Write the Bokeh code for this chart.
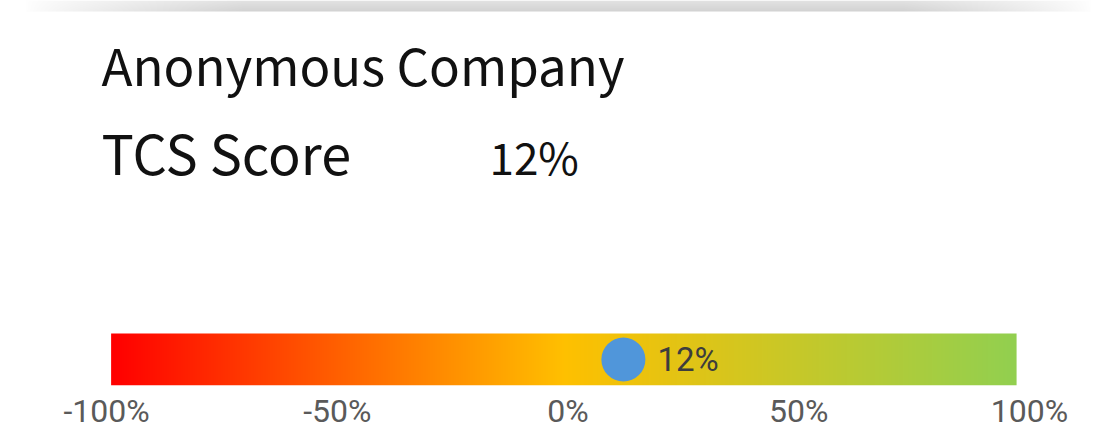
import numpy as np
from bokeh.plotting import figure
from bokeh.models import Range1d, FixedTicker
from bokeh.core.properties import value
from bokeh.embed import file_html
from bokeh.resources import INLINE

# ---- data ----
company = "Anonymous Company"
metric_label = "TCS Score"
score = 12
score_text = "12%"
tick_values = [-100, -50, 0, 50, 100]
tick_labels = ["-100%", "-50%", "0%", "50%", "100%"]
gradient_stops = [0.0, 0.5, 1.0]
gradient_colors = ["#FF0000", "#FFC000", "#92D050"]
bar_start = -99.0
bar_end = 97.2

# ---- layout ----
W, H = 1112, 445
FRAME_H = 385
px0, px1 = 106, 1029
scale = (px1 - px0) / 200.0
x_start = -100 - px0 / scale
x_end = 100 + (W - px1) / scale


def ypix(py):
    return FRAME_H - py


p = figure(width=W, height=H,
           x_range=Range1d(x_start, x_end), y_range=Range1d(0, FRAME_H),
           output_backend="svg", toolbar_location=None,
           y_axis_location=None,
           min_border_left=0, min_border_right=0, min_border_top=0,
           min_border_bottom=H - FRAME_H)
p.grid.visible = False
p.outline_line_color = None
p.background_fill_color = "white"
p.border_fill_color = "white"

# top shadow band (decoration)
sh_rows, sh_cols = 11, W
xs = np.arange(sh_cols)
a_h = np.clip((xs - 25) / 220.0, 0, 1) * np.clip((1090 - xs) / 190.0, 0, 1)
a_h = a_h ** 0.8
gray = np.linspace(0xd3, 0xe2, sh_rows)  # bottom row -> top row
shadow = np.zeros((sh_rows, sh_cols), dtype=np.uint32)
sv = shadow.view(dtype=np.uint8).reshape((sh_rows, sh_cols, 4))
for r in range(sh_rows):
    g = 255 - (255 - gray[r]) * a_h
    sv[r, :, 0] = g.astype(np.uint8)
    sv[r, :, 1] = g.astype(np.uint8)
    sv[r, :, 2] = g.astype(np.uint8)
    sv[r, :, 3] = 255
p.image_rgba(image=[shadow], x=x_start, y=ypix(11), dw=x_end - x_start, dh=11)

# gradient bar
ncol = 905
t = np.linspace(0, 1, ncol)
rgb = [tuple(int(c[i:i + 2], 16) for i in (1, 3, 5)) for c in gradient_colors]
img = np.zeros((1, ncol), dtype=np.uint32)
iv = img.view(dtype=np.uint8).reshape((1, ncol, 4))
for k in range(3):
    iv[0, :, k] = np.interp(t, gradient_stops, [c[k] for c in rgb]).astype(np.uint8)
iv[0, :, 3] = 255
bar_h = 52
p.image_rgba(image=[img], x=bar_start, y=0, dw=bar_end - bar_start, dh=bar_h)

# marker and label
p.scatter(x=[score], y=[bar_h / 2], size=44, fill_color="#5096DA", line_color=None)
p.text(x=[score], y=[bar_h / 2], text=[score_text], x_offset=34,
       text_font=value("Roboto"), text_font_size="33px", text_color="#3d3d3d",
       text_baseline="middle", text_align="left")

# header texts
p.text(x=[x_start], y=[ypix(88 - 25)], text=[company], x_offset=101,
       text_font=value("Noto Sans CJK JP"), text_font_size="51px", text_color="#111111",
       text_baseline="alphabetic", text_align="left")
p.text(x=[x_start], y=[ypix(177 - 26)], text=[metric_label], x_offset=101,
       text_font=value("Noto Sans CJK JP"), text_font_size="54px", text_color="#111111",
       text_baseline="alphabetic", text_align="left")
p.text(x=[x_start], y=[ypix(177 - 22)], text=[score_text], x_offset=489,
       text_font=value("Noto Sans CJK JP"), text_font_size="44px", text_color="#111111",
       text_baseline="alphabetic", text_align="left")

# axis
ax = p.xaxis[0]
ax.ticker = FixedTicker(ticks=tick_values)
ax.major_label_overrides = {v: l for v, l in zip(tick_values, tick_labels)}
ax.axis_line_color = None
ax.major_tick_line_color = None
ax.minor_tick_line_color = None
ax.major_tick_out = 0
ax.major_tick_in = 0
ax.major_label_standoff = 6
ax.major_label_text_font = "Roboto"
ax.major_label_text_font_size = "32px"
ax.major_label_text_color = "#5a5a5a"

open("out.html", "w").write(file_html(p, INLINE))
